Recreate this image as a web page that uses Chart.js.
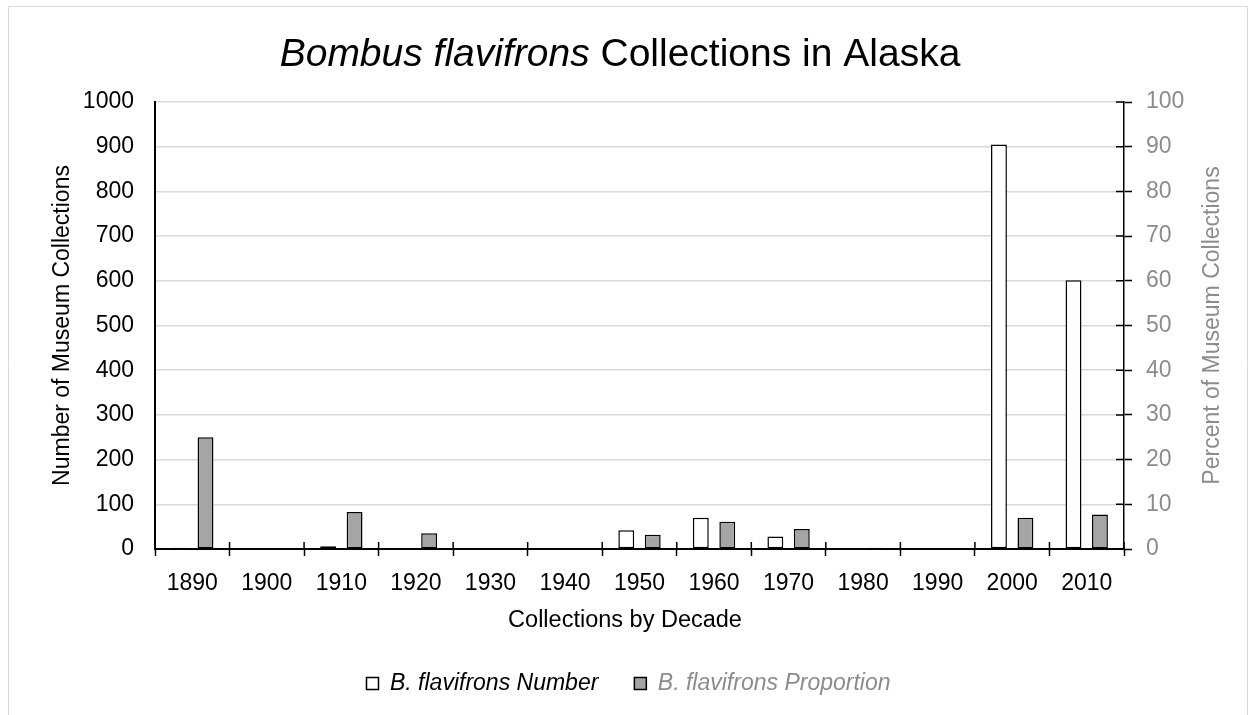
<!DOCTYPE html>
<html>
<head>
<meta charset="utf-8">
<script src="https://cdn.jsdelivr.net/npm/chart.js@4.4.0/dist/chart.umd.min.js"></script>
<style>
  html, body { margin: 0; padding: 0; background: #fff; }
  #wrap { position: relative; width: 1252px; height: 715px; }
</style>
</head>
<body>
<div id="wrap"><canvas id="myChart" width="1252" height="715"></canvas></div>
<script>
// decades on the x axis
var decades = ['1890', '1900', '1910', '1920', '1930', '1940', '1950', '1960', '1970', '1980', '1990', '2000', '2010'];
// number of museum collections (left axis)
var numberValues = [3, 0, 6, 2, 0, 0, 42, 70, 28, 1, 0, 905, 601];
// percent of museum collections (right axis)
var proportionValues = [25, 0, 8.3, 3.5, 0, 0, 3.2, 6.1, 4.5, 0.3, 0, 7.0, 7.7];

var fontName = "'Liberation Sans', Arial, sans-serif";
var grayText = '#8c8c8c';

// title with an italic species name, axis titles, inner tick marks and the frame
var extrasPlugin = {
    id: 'extrasPlugin',
    beforeDraw: function(chart) {
        var ctx = chart.ctx;
        ctx.save();
        ctx.fillStyle = '#fff';
        ctx.fillRect(0, 0, chart.width, chart.height);
        ctx.strokeStyle = '#d9d9d9';
        ctx.lineWidth = 1;
        ctx.beginPath();
        ctx.moveTo(8.5, chart.height);
        ctx.lineTo(8.5, 6.5);
        ctx.lineTo(chart.width - 4.5, 6.5);
        ctx.lineTo(chart.width - 4.5, chart.height);
        ctx.stroke();
        ctx.restore();
    },
    afterDraw: function(chart) {
        var ctx = chart.ctx;
        var area = chart.chartArea;
        ctx.save();

        // title
        var part1 = 'Bombus flavifrons';
        var part2 = ' Collections in Alaska';
        ctx.font = 'italic 39px ' + fontName;
        var w1 = ctx.measureText(part1).width;
        ctx.font = '39px ' + fontName;
        var w2 = ctx.measureText(part2).width;
        var x = 620 - (w1 + w2) / 2;
        ctx.fillStyle = '#000';
        ctx.textBaseline = 'alphabetic';
        ctx.font = 'italic 39px ' + fontName;
        ctx.fillText(part1, x, 66);
        ctx.font = '39px ' + fontName;
        ctx.fillText(part2, x + w1, 66);

        // x axis title
        ctx.textAlign = 'center';
        ctx.textBaseline = 'middle';
        ctx.font = '23.5px ' + fontName;
        ctx.fillText('Collections by Decade', 625, 621);

        // right axis title, reading bottom to top
        ctx.save();
        ctx.translate(1213, (area.top + area.bottom) / 2);
        ctx.rotate(-Math.PI / 2);
        ctx.fillStyle = grayText;
        ctx.font = '23px ' + fontName;
        ctx.fillText('Percent of Museum Collections', 0, 0);
        ctx.restore();

        // inner halves of the tick marks
        ctx.strokeStyle = '#000';
        ctx.lineWidth = 1.5;
        var y2 = chart.scales.y2;
        ctx.beginPath();
        y2.ticks.forEach(function(t, i) {
            var py = y2.getPixelForTick(i);
            ctx.moveTo(area.right - 8, py);
            ctx.lineTo(area.right, py);
        });
        var xs = chart.scales.x;
        var step = (xs.right - xs.left) / decades.length;
        for (var i = 1; i <= decades.length; i++) {
            var px = xs.left + i * step;
            ctx.moveTo(px, area.bottom - 7);
            ctx.lineTo(px, area.bottom);
        }
        ctx.stroke();
        ctx.restore();
    }
};

var ctx = document.getElementById('myChart').getContext('2d');
var myChart = new Chart(ctx, {
    type: 'bar',
    data: {
        labels: decades,
        datasets: [{
            label: 'B. flavifrons Number',
            data: numberValues,
            yAxisID: 'y',
            backgroundColor: '#ffffff',
            borderColor: '#000000',
            borderWidth: 1.5,
            borderSkipped: false
        }, {
            label: 'B. flavifrons Proportion',
            data: proportionValues,
            yAxisID: 'y2',
            backgroundColor: '#a5a5a5',
            borderColor: '#000000',
            borderWidth: 1.5,
            borderSkipped: false
        }]
    },
    options: {
        responsive: false,
        animation: false,
        devicePixelRatio: 1,
        categoryPercentage: 0.71,
        barPercentage: 0.6,
        layout: { padding: { top: 102, left: 5, right: 0, bottom: 10 } },
        plugins: {
            title: { display: false },
            tooltip: { enabled: false },
            legend: {
                position: 'bottom',
                labels: {
                    boxWidth: 12,
                    boxHeight: 12,
                    padding: 36,
                    color: '#000',
                    font: { family: fontName, size: 23, style: 'italic' },
                    generateLabels: function(chart) {
                        var items = Chart.defaults.plugins.legend.labels.generateLabels(chart);
                        items.forEach(function(item, i) {
                            item.fontColor = i === 0 ? '#000' : grayText;
                            item.lineWidth = 1.5;
                        });
                        return items;
                    }
                }
            }
        },
        scales: {
            x: {
                offset: true,
                grid: {
                    offset: true,
                    drawOnChartArea: false,
                    drawTicks: true,
                    tickLength: 7,
                    tickColor: '#000',
                    tickWidth: 1.5
                },
                border: { display: true, color: '#000', width: 2 },
                ticks: {
                    color: '#000',
                    padding: 14,
                    maxRotation: 0,
                    font: { family: fontName, size: 23 }
                },
                title: { display: false },
                afterFit: function(scale) { scale.height = 87; }
            },
            y: {
                position: 'left',
                min: 0,
                max: 1000,
                ticks: {
                    stepSize: 100,
                    color: '#000',
                    padding: 21,
                    font: { family: fontName, size: 23 },
                    callback: function(v) { return String(v); }
                },
                grid: { color: '#d9d9d9', lineWidth: 1.5, drawTicks: false },
                border: { display: true, color: '#000', width: 2 },
                title: {
                    display: true,
                    text: 'Number of Museum Collections',
                    color: '#000',
                    font: { family: fontName, size: 23 },
                    padding: { top: 44, bottom: 0 }
                },
                afterFit: function(scale) { scale.width = 150; }
            },
            y2: {
                position: 'right',
                min: 0,
                max: 100,
                ticks: {
                    stepSize: 10,
                    color: grayText,
                    padding: 14,
                    font: { family: fontName, size: 23 }
                },
                grid: {
                    drawOnChartArea: false,
                    drawTicks: true,
                    tickLength: 8,
                    tickColor: '#000',
                    tickWidth: 1.5
                },
                border: { display: true, color: '#000', width: 1.5 },
                title: { display: false },
                afterFit: function(scale) { scale.width = 128; }
            }
        }
    },
    plugins: [extrasPlugin]
});
</script>
</body>
</html>
